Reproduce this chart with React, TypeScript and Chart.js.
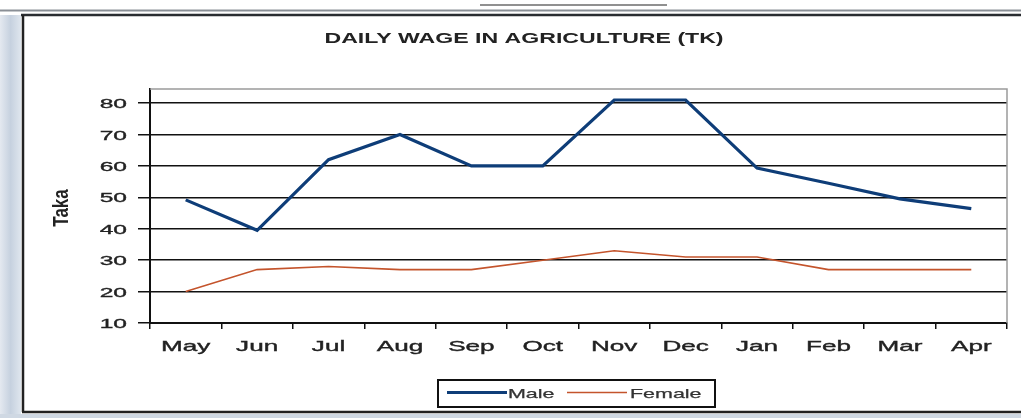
import React, { useEffect, useRef } from "react";
import { Chart, registerables } from "chart.js";

Chart.register(...registerables);

const months = ["May", "Jun", "Jul", "Aug", "Sep", "Oct", "Nov", "Dec", "Jan", "Feb", "Mar", "Apr"];
const maleWage = [49.2, 39.5, 62, 70, 60, 60, 81, 81, 59.3, 54.5, 49.5, 46.4];
const femaleWage = [20, 27, 28, 27, 27, 30, 33, 31, 31, 27, 27, 27];
const yTickValues = [10, 20, 30, 40, 50, 60, 70, 80];
const seriesNames = ["Male", "Female"];
const chartTitle = "DAILY WAGE IN AGRICULTURE (TK)";
const yAxisTitle = "Taka";

const FONT = "'Liberation Sans', Arial, sans-serif";

function drawText(
  ctx: CanvasRenderingContext2D,
  text: string,
  x: number,
  y: number,
  font: string,
  sx: number,
  align: CanvasTextAlign,
  baseline: CanvasTextBaseline,
  color: string,
  rotate = false,
  thicken = 0
) {
  ctx.save();
  ctx.translate(x, y);
  ctx.scale(sx, 1);
  if (rotate) ctx.rotate(-Math.PI / 2);
  ctx.font = font;
  ctx.textAlign = align;
  ctx.textBaseline = baseline;
  ctx.fillStyle = color;
  ctx.fillText(text, 0, 0);
  if (thicken > 0) {
    ctx.strokeStyle = color;
    ctx.lineWidth = thicken;
    ctx.strokeText(text, 0, 0);
  }
  ctx.restore();
}

const framePlugin = {
  id: "frame",
  beforeDraw(chart: any) {
    const ctx: CanvasRenderingContext2D = chart.ctx;
    const W = chart.width;
    const H = chart.height;
    ctx.save();
    ctx.fillStyle = "#ffffff";
    ctx.fillRect(0, 0, W, H);
    const g = ctx.createLinearGradient(0, 0, 21, 0);
    g.addColorStop(0, "#e4e9f0");
    g.addColorStop(0.5, "#c6d1df");
    g.addColorStop(1, "#dfe6ee");
    ctx.fillStyle = g;
    ctx.fillRect(0, 15, 21, H - 15);
    ctx.fillStyle = "#cfd8e3";
    ctx.fillRect(0, 414, W, H - 414);
    ctx.strokeStyle = "#222";
    ctx.lineWidth = 1.2;
    ctx.beginPath();
    ctx.moveTo(480, 5);
    ctx.lineTo(667, 5);
    ctx.stroke();
    ctx.strokeStyle = "#8a8f96";
    ctx.lineWidth = 2;
    ctx.beginPath();
    ctx.moveTo(0, 10.5);
    ctx.lineTo(W, 10.5);
    ctx.stroke();
    ctx.strokeStyle = "#2a2d31";
    ctx.lineWidth = 2.5;
    ctx.beginPath();
    ctx.moveTo(21, 15);
    ctx.lineTo(W, 15);
    ctx.stroke();
    ctx.strokeStyle = "#222";
    ctx.lineWidth = 2.5;
    ctx.beginPath();
    ctx.moveTo(23, 15);
    ctx.lineTo(23, 412);
    ctx.stroke();
    ctx.beginPath();
    ctx.moveTo(22, 412);
    ctx.lineTo(W, 412);
    ctx.stroke();
    ctx.restore();
  },
  afterDraw(chart: any) {
    const ctx: CanvasRenderingContext2D = chart.ctx;
    const area = chart.chartArea;
    const xs = chart.scales.x;
    const ys = chart.scales.y;
    ctx.save();
    ctx.strokeStyle = "#9a9a9a";
    ctx.lineWidth = 1.5;
    ctx.beginPath();
    ctx.moveTo(area.left, area.top);
    ctx.lineTo(area.right, area.top);
    ctx.lineTo(area.right, area.bottom);
    ctx.stroke();
    ctx.restore();

    drawText(ctx, chartTitle, 524, 43, `bold 14px ${FONT}`, 1.65, "center", "alphabetic", "#222");

    ys.ticks.forEach((t: any) => {
      const py = ys.getPixelForValue(t.value);
      drawText(ctx, String(t.value), 127, py + 5, `13.5px ${FONT}`, 1.82, "right", "alphabetic", "#222", false, 0.35);
    });

    const labels: string[] = chart.data.labels;
    labels.forEach((lab, i) => {
      const px = xs.getPixelForValue(i);
      drawText(ctx, lab, px, 351, `14.5px ${FONT}`, 1.8, "center", "alphabetic", "#222", false, 0.35);
    });

    drawText(ctx, yAxisTitle, 68, 208, `bold 17px ${FONT}`, 1.35, "center", "alphabetic", "#222", true);

    ctx.save();
    ctx.strokeStyle = "#111";
    ctx.lineWidth = 2;
    ctx.strokeRect(438, 380, 277, 27);
    ctx.restore();
    const ds = chart.data.datasets;
    const items = [
      { x1: 447, x2: 507, tx: 508 },
      { x1: 567, x2: 627, tx: 630 },
    ];
    ds.forEach((d: any, i: number) => {
      const it = items[i];
      ctx.save();
      ctx.strokeStyle = d.borderColor;
      ctx.lineWidth = i === 0 ? 3 : 1.6;
      ctx.beginPath();
      ctx.moveTo(it.x1, 392.5);
      ctx.lineTo(it.x2, 392.5);
      ctx.stroke();
      ctx.restore();
      drawText(ctx, d.label, it.tx, 397.5, `13px ${FONT}`, 1.65, "left", "alphabetic", "#333", false, 0.25);
    });
  },
};

export default function App() {
  const canvasRef = useRef<HTMLCanvasElement | null>(null);

  useEffect(() => {
    const canvas = canvasRef.current;
    if (!canvas) return;
    const chart = new Chart(canvas, {
      type: "line",
      data: {
        labels: months,
        datasets: [
          {
            label: seriesNames[0],
            data: maleWage,
            borderColor: "#0e3d78",
            borderWidth: 3.2,
            pointRadius: 0,
            tension: 0,
            fill: false,
          },
          {
            label: seriesNames[1],
            data: femaleWage,
            borderColor: "#c4542c",
            borderWidth: 1.6,
            pointRadius: 0,
            tension: 0,
            fill: false,
          },
        ],
      },
      options: {
        animation: false,
        responsive: false,
        devicePixelRatio: 1,
        layout: { padding: { left: 0, top: 89, right: 14, bottom: 0 } },
        plugins: {
          legend: { display: false },
          title: { display: false },
          tooltip: { enabled: false },
        },
        scales: {
          x: {
            type: "category",
            offset: true,
            grid: {
              offset: true,
              drawOnChartArea: false,
              drawTicks: true,
              tickLength: 6,
              color: "#111",
              lineWidth: 1.5,
            },
            border: { display: true, color: "#111", width: 2 },
            ticks: { display: false },
            afterFit: (s: any) => {
              s.height = 95;
            },
          },
          y: {
            min: 10,
            max: 84.5,
            afterBuildTicks: (s: any) => {
              s.ticks = yTickValues.map((v) => ({ value: v }));
            },
            grid: { color: "#111", lineWidth: 1.5, drawTicks: true, tickLength: 12 },
            border: { display: true, color: "#111", width: 2 },
            ticks: { display: false },
            afterFit: (s: any) => {
              s.width = 150;
            },
          },
        },
      },
      plugins: [framePlugin],
    });
    return () => chart.destroy();
  }, []);

  return (
    <div style={{ position: "absolute", left: 0, top: 0, width: 1021, height: 418 }}>
      <canvas ref={canvasRef} width={1021} height={418} style={{ display: "block" }} />
    </div>
  );
}
